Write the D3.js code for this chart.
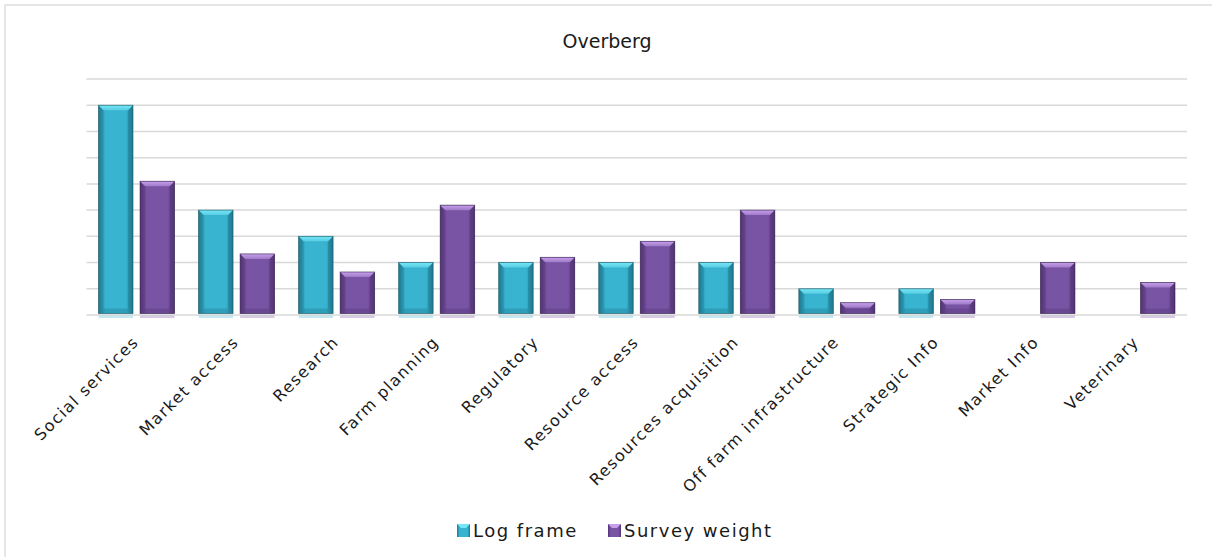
<!DOCTYPE html>
<html>
<head>
<meta charset="utf-8">
<script src="https://cdn.jsdelivr.net/npm/d3@7"></script>
<style>
  html, body { margin: 0; padding: 0; background: #fff; }
  svg { display: block; }
  text { font-family: "DejaVu Sans", sans-serif; fill: #1a1a1a; }
</style>
</head>
<body>
<svg id="chart" width="1212" height="557"></svg>
<script>
// Overberg: support needs by category, log frame vs survey weight
const categories = [
  "Social services", "Market access", "Research", "Farm planning", "Regulatory",
  "Resource access", "Resources acquisition", "Off farm infrastructure",
  "Strategic Info", "Market Info", "Veterinary"
];
const seriesNames = ["Log frame", "Survey weight"];
const logFrame     = [8, 4, 3, 2, 2, 2, 2, 1, 1, 0, 0];
const surveyWeight = [5.1, 2.33, 1.64, 4.19, 2.2, 2.81, 4.0, 0.47, 0.59, 2.0, 1.24];
const gridTicks = [0, 1, 2, 3, 4, 5, 6, 7, 8, 9];

const palette = {
  "Log frame":     { body: "#38b3d0", light: "#76e6f6", dark: "#1f7990", edge: "#12505f" },
  "Survey weight": { body: "#7954a4", light: "#c7a0ec", dark: "#523475", edge: "#2e1b45" }
};

const svg = d3.select("#chart");
const W = 1212, H = 557;
const plot = { left: 86.5, right: 1187, top: 79, bottom: 315 };

// chart frame (only top and left edges fall inside the window)
svg.append("rect")
  .attr("x", 5).attr("y", 5).attr("width", W + 20).attr("height", H + 20)
  .attr("fill", "#fff").attr("stroke", "#d9d9d9").attr("stroke-width", 1.3);

const defs = svg.append("defs");
seriesNames.forEach((s, i) => {
  const c = palette[s];
  const g = defs.append("linearGradient").attr("id", "body" + i)
    .attr("x1", "0").attr("x2", "1").attr("y1", "0").attr("y2", "0");
  g.append("stop").attr("offset", "0").attr("stop-color", c.dark);
  g.append("stop").attr("offset", "0.2").attr("stop-color", c.body);
  g.append("stop").attr("offset", "0.8").attr("stop-color", c.body);
  g.append("stop").attr("offset", "1").attr("stop-color", c.dark);
  const t = defs.append("linearGradient").attr("id", "top" + i)
    .attr("x1", "0").attr("x2", "0").attr("y1", "0").attr("y2", "1");
  t.append("stop").attr("offset", "0").attr("stop-color", c.light);
  t.append("stop").attr("offset", "1").attr("stop-color", d3.interpolateRgb(c.light, c.body)(0.5));
});

const y = d3.scaleLinear().domain([0, 9]).range([plot.bottom, plot.top]);
const x0 = d3.scaleBand().domain(categories).range([plot.left, plot.right]);
const x1 = d3.scaleBand().domain(seriesNames)
  .range([x0.bandwidth() * 0.12, x0.bandwidth() * 0.88]).paddingInner(0.17);

// gridlines
svg.append("g").selectAll("line").data(gridTicks).join("line")
  .attr("x1", plot.left).attr("x2", plot.right)
  .attr("y1", d => y(d)).attr("y2", d => y(d))
  .attr("stroke", "#d9d9d9").attr("stroke-width", 1.5);

// title
svg.append("text").attr("x", 607).attr("y", 48)
  .attr("text-anchor", "middle").attr("font-size", 19).text("Overberg");

const rows = categories.map((c, i) => ({
  cat: c,
  vals: [{ s: seriesNames[0], si: 0, v: logFrame[i] }, { s: seriesNames[1], si: 1, v: surveyWeight[i] }]
}));

const bars = svg.append("g").selectAll("g").data(rows).join("g")
  .attr("transform", d => `translate(${x0(d.cat)},0)`);

bars.each(function (row) {
  const g = d3.select(this);
  row.vals.forEach(d => {
    if (d.v <= 0) return;
    const c = palette[d.s];
    const bx = x1(d.s), bw = x1.bandwidth();
    const by = y(d.v), bh = y(0) - y(d.v) - 1.5;
    const b = Math.min(5, bh / 2);
    const bar = g.append("g");
    // faint reflection under the baseline
    bar.append("rect").attr("x", bx).attr("y", y(0) + 0.5).attr("width", bw).attr("height", 2.5)
      .attr("fill", c.body).attr("opacity", 0.3);
    bar.append("rect").attr("x", bx).attr("y", by).attr("width", bw).attr("height", bh)
      .attr("fill", `url(#body${d.si})`);
    const pts = a => a.map(p => p.join(",")).join(" ");
    // left bevel
    bar.append("polygon").attr("points", pts([[bx, by], [bx + b, by + b], [bx + b, by + bh - b], [bx, by + bh]]))
      .attr("fill", c.dark).attr("opacity", 0.3);
    // right bevel
    bar.append("polygon").attr("points", pts([[bx + bw, by], [bx + bw - b, by + b], [bx + bw - b, by + bh - b], [bx + bw, by + bh]]))
      .attr("fill", c.dark).attr("opacity", 0.5);
    // bottom bevel
    bar.append("polygon").attr("points", pts([[bx, by + bh], [bx + b, by + bh - b], [bx + bw - b, by + bh - b], [bx + bw, by + bh]]))
      .attr("fill", c.dark).attr("opacity", 0.35);
    // top highlight
    bar.append("polygon").attr("points", pts([[bx, by], [bx + bw, by], [bx + bw - b, by + b], [bx + b, by + b]]))
      .attr("fill", `url(#top${d.si})`);
    bar.append("rect").attr("x", bx).attr("y", by).attr("width", bw).attr("height", bh)
      .attr("fill", "none").attr("stroke", c.edge).attr("stroke-width", 0.8).attr("opacity", 0.7);
  });
});

// category labels, rotated
svg.append("g").selectAll("text").data(categories).join("text")
  .attr("transform", d => `translate(${x0(d) + x0.bandwidth() / 2 + 3},343) rotate(-45)`)
  .attr("text-anchor", "end").attr("font-size", 16).attr("letter-spacing", 1.4)
  .text(d => d);

// legend
const legend = svg.append("g");
const legendItems = [{ s: seriesNames[0], x: 457 }, { s: seriesNames[1], x: 608 }];
legendItems.forEach((d, i) => {
  const c = palette[d.s];
  legend.append("rect").attr("x", d.x).attr("y", 524).attr("width", 13).attr("height", 13)
    .attr("fill", `url(#body${i})`);
  legend.append("polygon")
    .attr("points", [[d.x, 524], [d.x + 13, 524], [d.x + 9, 528], [d.x + 4, 528]].map(p => p.join(",")).join(" "))
    .attr("fill", c.light);
  legend.append("text").attr("x", d.x + 16).attr("y", 537)
    .attr("font-size", 18).attr("letter-spacing", 1.5).text(d.s);
});
</script>
</body>
</html>
